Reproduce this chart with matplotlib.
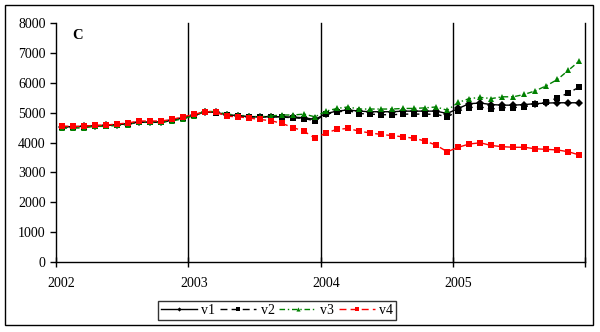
import matplotlib
matplotlib.use("Agg")
import matplotlib.pyplot as plt
from matplotlib.patches import Rectangle

plt.rcParams['font.family'] = ['Liberation Serif', 'DejaVu Serif']

# monthly series, Jan 2002 .. Dec 2005
years = ['2002', '2003', '2004', '2005']
v1 = [4530, 4530, 4540, 4560, 4570, 4600, 4630, 4680, 4680, 4690, 4740, 4820,
      4910, 5020, 5010, 4930, 4900, 4870, 4860, 4870, 4860, 4850, 4830, 4770,
      4970, 5050, 5090, 5050, 5030, 5030, 5030, 5050, 5050, 5050, 5050, 4970,
      5140, 5300, 5320, 5270, 5250, 5250, 5270, 5300, 5320, 5330, 5330, 5330]
v2 = [4520, 4520, 4530, 4560, 4560, 4600, 4620, 4680, 4680, 4680, 4740, 4820,
      4910, 5020, 5000, 4920, 4890, 4860, 4850, 4860, 4850, 4830, 4800, 4730,
      4950, 5020, 5070, 4970, 4950, 4930, 4930, 4950, 4950, 4950, 4940, 4860,
      5050, 5170, 5190, 5120, 5170, 5170, 5190, 5280, 5360, 5490, 5660, 5860]
v3 = [4480, 4480, 4490, 4540, 4540, 4570, 4600, 4680, 4670, 4670, 4720, 4790,
      4900, 5050, 5030, 4950, 4920, 4880, 4860, 4890, 4920, 4920, 4950, 4860,
      5050, 5140, 5190, 5120, 5120, 5120, 5120, 5140, 5140, 5160, 5190, 5080,
      5340, 5470, 5510, 5470, 5530, 5530, 5610, 5730, 5900, 6110, 6420, 6730]
v4 = [4550, 4540, 4540, 4580, 4580, 4620, 4650, 4720, 4720, 4720, 4770, 4860,
      4940, 5030, 5020, 4880, 4860, 4820, 4770, 4730, 4640, 4500, 4380, 4140,
      4320, 4440, 4470, 4380, 4320, 4270, 4230, 4190, 4140, 4050, 3910, 3690,
      3840, 3950, 3990, 3900, 3860, 3840, 3840, 3790, 3770, 3750, 3690, 3580]

W, H = 600, 332
fig = plt.figure(figsize=(W / 100, H / 100), dpi=100)
ax = fig.add_axes([56 / W, (H - 262) / H, (585 - 56) / W, (262 - 23) / H])

x = [i + 0.5 for i in range(len(v1))]
ax.plot(x, v1, color='black', lw=1, ls='-', marker='D', ms=3.6, mew=0, label='v1')
ax.plot(x, v2, color='black', lw=1, ls=(0, (5, 3)), marker='s', ms=4, mew=0, label='v2')
ax.plot(x, v3, color='#008000', lw=1, ls=(0, (4, 2, 1, 2)), marker='^', ms=5, mew=0, label='v3')
ax.plot(x, v4, color='#ff0000', lw=1, ls=(0, (5, 3)), marker='s', ms=4, mew=0, label='v4')

ax.set_xlim(0, 48)
ax.set_ylim(0, 8000)
ax.set_yticks(range(0, 8001, 1000))
ax.tick_params(axis='y', length=4.5, width=1, labelsize=10, pad=3)

# year boundaries carry the tick marks and gridlines, labels sit on January
ax.set_xticks([0, 12, 24, 36, 48])
ax.set_xticklabels([])
ax.tick_params(axis='x', which='major', direction='inout', length=7, width=1)
ax.set_xticks([i * 12 + 0.5 for i in range(len(years))], minor=True)
ax.set_xticklabels(years, minor=True)
ax.tick_params(axis='x', which='minor', length=0, labelsize=10, pad=11)
for b in [12, 24, 36, 48]:
    ax.axvline(b, color='black', lw=1, zorder=0, clip_on=False)

for s in ['top', 'right']:
    ax.spines[s].set_visible(False)
for s in ['left', 'bottom']:
    ax.spines[s].set_linewidth(1)

ax.text(0.03, 0.975, 'C', transform=ax.transAxes, fontsize=10.5,
        fontweight='bold', va='top', ha='left')

leg = fig.legend(loc='center', bbox_to_anchor=(277 / W, (H - 310.5) / H),
                 ncol=4, fontsize=10, frameon=True, fancybox=False,
                 edgecolor='black', handlelength=2.6, handletextpad=0.3,
                 columnspacing=0.35, borderpad=0.25, markerscale=0.6)
leg.get_frame().set_linewidth(1)

fig.patches.append(Rectangle((5 / W, (H - 325) / H), 588 / W, 320 / H,
                             transform=fig.transFigure, fill=False,
                             edgecolor='black', lw=1))

fig.savefig('out.png', dpi=100)
